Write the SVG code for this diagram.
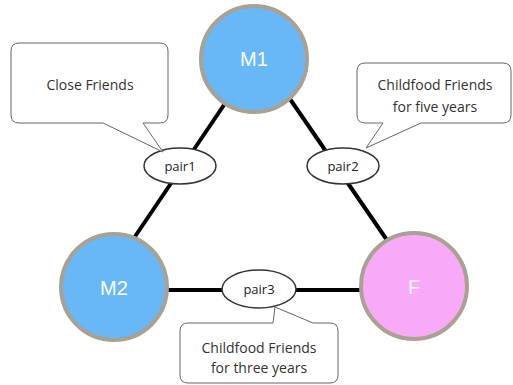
<svg xmlns="http://www.w3.org/2000/svg" width="513" height="385" viewBox="0 0 513 385">
<style>
.edge{stroke:#000;stroke-width:4;fill:none}
.person{stroke:#a9a191;stroke-width:4}
.m{fill:#68b7f6}
.f{fill:#f8aaf8}
.ptxt{font-family:"Liberation Sans",Arial,sans-serif;font-size:20px;fill:#fff;text-anchor:middle}
.pair{fill:#fff;stroke:#333;stroke-width:1.5}
.pairtxt{font-family:"Open Sans","Noto Sans",sans-serif;font-size:13px;fill:#222;text-anchor:middle}
.call{fill:#fff;stroke:#666;stroke-width:1}
.calltxt{font-family:"Open Sans","Noto Sans",sans-serif;font-size:14px;fill:#333;text-anchor:middle}
</style>
<rect width="513" height="385" fill="#fff"/>
<g id="connectors">
<line class="edge" x1="226" y1="102" x2="134" y2="238"/>
<line class="edge" x1="290" y1="99" x2="389" y2="243"/>
<line class="edge" x1="166" y1="290" x2="362" y2="290"/>
</g>
<g id="M1"><circle class="person m" cx="254" cy="59" r="53"/><text class="ptxt" x="254" y="66">M1</text></g>
<g id="M2"><circle class="person m" cx="114" cy="287" r="53"/><text class="ptxt" x="114" y="295">M2</text></g>
<g id="F"><circle class="person f" cx="414" cy="286" r="53"/><text class="ptxt" x="414" y="294">F</text></g>
<g id="pair1"><ellipse class="pair" cx="180" cy="166" rx="36" ry="18"/><text class="pairtxt" x="180" y="171">pair1</text></g>
<g id="pair2"><ellipse class="pair" cx="343" cy="166" rx="36" ry="18"/><text class="pairtxt" x="343" y="171">pair2</text></g>
<g id="pair3"><ellipse class="pair" cx="259" cy="289" rx="37" ry="19"/><text class="pairtxt" x="259" y="294">pair3</text></g>
<g id="note1"><path class="call" d="M 19,43 H 160 Q 168,43 168,51 V 115 Q 168,123 160,123 H 143 L 163,152 L 103,123 H 19 Q 11,123 11,115 V 51 Q 11,43 19,43 Z"/><text class="calltxt" x="90" y="90">Close Friends</text></g>
<g id="note2"><path class="call" d="M 365,63 H 503 Q 511,63 511,71 V 115 Q 511,123 503,123 H 421 L 366,148 L 383,123 H 365 Q 357,123 357,115 V 71 Q 357,63 365,63 Z"/><text class="calltxt" x="435" y="90">Childfood Friends</text><text class="calltxt" x="435" y="112">for five years</text></g>
<g id="note3"><path class="call" d="M 188,323 H 273 L 275,307 L 313,323 H 330 Q 338,323 338,331 V 375 Q 338,383 330,383 H 188 Q 180,383 180,375 V 331 Q 180,323 188,323 Z"/><text class="calltxt" x="259" y="353">Childfood Friends</text><text class="calltxt" x="259" y="373">for three years</text></g>
</svg>
